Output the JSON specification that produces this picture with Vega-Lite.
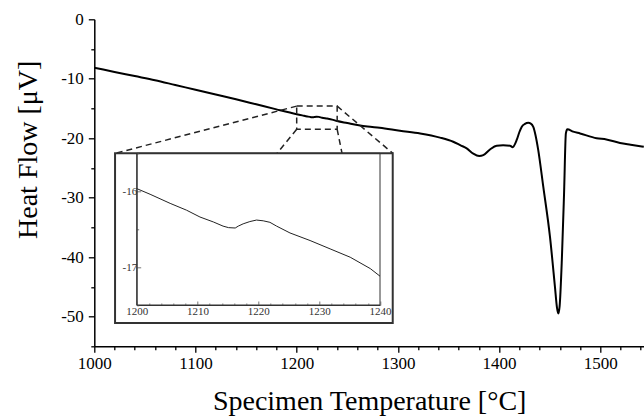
{
  "$schema": "https://vega.github.io/schema/vega-lite/v6.json",
  "width": 549.7,
  "height": 327,
  "autosize": "none",
  "padding": {"left": 94.3, "top": 19.3, "right": 0, "bottom": 71.7},
  "background": "white",
  "config": {
    "view": {"stroke": null},
    "font": "Liberation Serif",
    "axis": {"labelFont": "Liberation Serif", "titleFont": "Liberation Serif", "titleFontWeight": "normal", "grid": false, "labelColor": "black", "titleColor": "black", "domainColor": "black", "tickColor": "black"}
  },
  "datasets": {
    "main": [
      {"T": 1000, "HF": -8.15}, {"T": 1020, "HF": -8.85}, {"T": 1040, "HF": -9.55}, {"T": 1060, "HF": -10.25},
      {"T": 1080, "HF": -11.05}, {"T": 1100, "HF": -11.85}, {"T": 1120, "HF": -12.65}, {"T": 1140, "HF": -13.45},
      {"T": 1160, "HF": -14.3}, {"T": 1180, "HF": -15.15}, {"T": 1200, "HF": -15.96}, {"T": 1205.5, "HF": -16.16},
      {"T": 1210.4, "HF": -16.34}, {"T": 1214.2, "HF": -16.46}, {"T": 1216.2, "HF": -16.49}, {"T": 1217.5, "HF": -16.43},
      {"T": 1219.7, "HF": -16.38}, {"T": 1221.9, "HF": -16.41}, {"T": 1225, "HF": -16.55}, {"T": 1230, "HF": -16.7},
      {"T": 1235, "HF": -16.87}, {"T": 1240, "HF": -17.12}, {"T": 1250, "HF": -17.45}, {"T": 1260, "HF": -17.78},
      {"T": 1270, "HF": -18.05}, {"T": 1282, "HF": -18.25}, {"T": 1302, "HF": -18.75}, {"T": 1322, "HF": -19.2},
      {"T": 1341.6, "HF": -19.9}, {"T": 1354.7, "HF": -20.6}, {"T": 1362, "HF": -21.2}, {"T": 1368, "HF": -21.7},
      {"T": 1374.5, "HF": -22.6}, {"T": 1380.4, "HF": -23.0}, {"T": 1384.4, "HF": -22.85}, {"T": 1391, "HF": -21.9},
      {"T": 1397.6, "HF": -21.25}, {"T": 1404, "HF": -21.2}, {"T": 1410.8, "HF": -21.25}, {"T": 1413.4, "HF": -21.5},
      {"T": 1417.4, "HF": -20.3}, {"T": 1420, "HF": -19.0}, {"T": 1422.3, "HF": -18.1}, {"T": 1425.5, "HF": -17.6},
      {"T": 1428.9, "HF": -17.4}, {"T": 1431, "HF": -17.5}, {"T": 1433.8, "HF": -18.1}, {"T": 1436, "HF": -19.5},
      {"T": 1438.7, "HF": -22.0}, {"T": 1443.7, "HF": -28.2}, {"T": 1450.3, "HF": -36.6}, {"T": 1455.2, "HF": -45.0},
      {"T": 1457.2, "HF": -48.5}, {"T": 1458.5, "HF": -49.5}, {"T": 1459.8, "HF": -48.3}, {"T": 1462, "HF": -40.5},
      {"T": 1464.2, "HF": -29.3}, {"T": 1466, "HF": -19.2}, {"T": 1467.4, "HF": -18.5}, {"T": 1473.3, "HF": -18.9},
      {"T": 1480, "HF": -19.2}, {"T": 1496.4, "HF": -20.0}, {"T": 1506, "HF": -20.2}, {"T": 1519.5, "HF": -20.8},
      {"T": 1530, "HF": -21.1}, {"T": 1543, "HF": -21.45}
    ],
    "inset": [
      {"T": 1200, "HF": -15.965}, {"T": 1202.2, "HF": -16.04}, {"T": 1205.5, "HF": -16.16}, {"T": 1208.2, "HF": -16.25},
      {"T": 1210.4, "HF": -16.34}, {"T": 1212.6, "HF": -16.405}, {"T": 1214.2, "HF": -16.46}, {"T": 1215.1, "HF": -16.48},
      {"T": 1216.2, "HF": -16.485}, {"T": 1216.7, "HF": -16.46}, {"T": 1217.5, "HF": -16.43}, {"T": 1218.6, "HF": -16.4},
      {"T": 1219.7, "HF": -16.38}, {"T": 1220.8, "HF": -16.39}, {"T": 1221.9, "HF": -16.41}, {"T": 1223.0, "HF": -16.46},
      {"T": 1225.2, "HF": -16.55}, {"T": 1228.5, "HF": -16.65}, {"T": 1231.8, "HF": -16.76}, {"T": 1235.1, "HF": -16.87},
      {"T": 1238.4, "HF": -17.02}, {"T": 1240, "HF": -17.12}
    ],
    "zoombox": [{"xa": 1200, "xb": 1240, "ya": -14.6, "yb": -18.5}],
    "connectors": [
      {"xa": 1200, "ya": -14.6, "xb": 1020.5, "yb": -22.55},
      {"xa": 1200, "ya": -18.5, "xb": 1180.5, "yb": -22.55},
      {"xa": 1240, "ya": -18.5, "xb": 1244.8, "yb": -22.55},
      {"xa": 1240, "ya": -14.6, "xb": 1295, "yb": -22.55}
    ],
    "frame": [{"xa": 1020.5, "xb": 1294.9, "ya": -22.55, "yb": -51.07}],
    "insetbox": [{"xa": 1200, "xb": 1240, "ya": -17.5, "yb": -15.5}]
  },
  "layer": [
    {
      "data": {"name": "main"},
      "mark": {"type": "line", "color": "black", "strokeWidth": 2, "interpolate": "monotone"},
      "encoding": {
        "x": {"field": "T", "type": "quantitative",
          "scale": {"domain": [1000, 1543.2], "nice": false, "zero": false},
          "axis": {"orient": "bottom", "title": "Specimen Temperature [°C]", "values": [1000,1020,1040,1060,1080,1100,1120,1140,1160,1180,1200,1220,1240,1260,1280,1300,1320,1340,1360,1380,1400,1420,1440,1460,1480,1500,1520,1540],
            "labelExpr": "datum.value % 100 === 0 ? '' + datum.value : ''",
            "tickSize": {"condition": {"test": "datum.value % 100 === 0", "value": 6}, "value": 3.5},
            "labelFontSize": 17, "labelPadding": 3, "labelOverlap": false, "labelFlush": false,
            "domainWidth": 1.5, "tickWidth": 1.3,
            "titleFontSize": 28, "titleY": 63, "titleBaseline": "alphabetic"}},
        "y": {"field": "HF", "type": "quantitative",
          "scale": {"domain": [-55, 0], "nice": false, "zero": false},
          "axis": {"orient": "left", "title": "Heat Flow [μV]", "values": [0,-5,-10,-15,-20,-25,-30,-35,-40,-45,-50,-55],
            "labelExpr": "datum.value % 10 === 0 ? '' + datum.value : ''",
            "tickSize": {"condition": {"test": "datum.value % 10 === 0", "value": 6}, "value": 3.5},
            "labelFontSize": 17, "labelPadding": 5, "labelOverlap": false, "labelFlush": false,
            "domainWidth": 1.5, "tickWidth": 1.3,
            "titleFontSize": 28, "titleX": -66, "titleY": 130, "titleBaseline": "middle", "titleAlign": "center"}}
      }
    },
    {
      "mark": {"type": "rule", "color": "#444", "strokeWidth": 1.5},
      "encoding": {"y": {"datum": 0, "type": "quantitative", "scale": {"domain": [-55, 0], "nice": false, "zero": false}, "axis": null}}
    },
    {
      "data": {"name": "zoombox"},
      "mark": {"type": "rect", "filled": false, "color": "#222", "strokeWidth": 1.5, "strokeDash": [6, 4]},
      "encoding": {
        "x": {"field": "xa", "type": "quantitative", "scale": {"domain": [1000, 1543.2], "nice": false, "zero": false}, "axis": null}, "x2": {"field": "xb"},
        "y": {"field": "ya", "type": "quantitative", "scale": {"domain": [-55, 0], "nice": false, "zero": false}, "axis": null}, "y2": {"field": "yb"}
      }
    },
    {
      "data": {"name": "connectors"},
      "mark": {"type": "rule", "color": "#222", "strokeWidth": 1.5, "strokeDash": [6, 4]},
      "encoding": {
        "x": {"field": "xa", "type": "quantitative", "scale": {"domain": [1000, 1543.2], "nice": false, "zero": false}, "axis": null}, "x2": {"field": "xb"},
        "y": {"field": "ya", "type": "quantitative", "scale": {"domain": [-55, 0], "nice": false, "zero": false}, "axis": null}, "y2": {"field": "yb"}
      }
    },
    {
      "data": {"name": "frame"},
      "mark": {"type": "rect", "fill": "white", "stroke": "#333", "strokeWidth": 2},
      "encoding": {
        "x": {"field": "xa", "type": "quantitative", "scale": {"domain": [1000, 1543.2], "nice": false, "zero": false}, "axis": null}, "x2": {"field": "xb"},
        "y": {"field": "ya", "type": "quantitative", "scale": {"domain": [-55, 0], "nice": false, "zero": false}, "axis": null}, "y2": {"field": "yb"}
      }
    },
    {
      "data": {"name": "insetbox"},
      "mark": {"type": "rect", "filled": false, "color": "#333", "strokeWidth": 1},
      "encoding": {
        "x": {"field": "xa", "type": "quantitative", "scale": {"domain": [1200, 1240], "range": [42.4, 285.7], "nice": false, "zero": false}, "axis": null},
        "x2": {"field": "xb"},
        "y": {"field": "ya", "type": "quantitative", "scale": {"domain": [-17.5, -15.5], "range": [285.7, 134], "nice": false, "zero": false}, "axis": null},
        "y2": {"field": "yb"}
      }
    },
    {
      "data": {"name": "inset"},
      "mark": {"type": "line", "color": "#222", "strokeWidth": 1},
      "encoding": {
        "x": {"field": "T", "type": "quantitative",
          "scale": {"domain": [1200, 1240], "range": [42.4, 285.7], "nice": false, "zero": false},
          "axis": {"orient": "bottom", "offset": -41.3, "title": null, "zindex": 2,
            "values": [1200,1202,1204,1206,1208,1210,1212,1214,1216,1218,1220,1222,1224,1226,1228,1230,1232,1234,1236,1238,1240],
            "labelExpr": "datum.value % 10 === 0 ? '' + datum.value : ''",
            "tickSize": {"condition": {"test": "datum.value % 10 === 0", "value": -4}, "value": -2},
            "labelFontSize": 11, "labelColor": "#333", "labelPadding": 4, "labelOverlap": false, "labelFlush": false,
            "domainColor": "#333", "tickColor": "#555", "tickWidth": 0.8}},
        "y": {"field": "HF", "type": "quantitative",
          "scale": {"domain": [-17.5, -15.5], "range": [285.7, 134], "nice": false, "zero": false},
          "axis": {"orient": "left", "offset": -42.4, "title": null, "zindex": 2,
            "values": [-15.5, -16, -16.5, -17, -17.5],
            "labelExpr": "abs(datum.value % 1) < 0.01 ? '' + datum.value : ''",
            "tickSize": {"condition": {"test": "abs(datum.value % 1) < 0.01", "value": -4}, "value": -2},
            "labelFontSize": 11, "labelColor": "#333", "labelPadding": 4, "labelOverlap": false, "labelFlush": false,
            "domainColor": "#333", "tickColor": "#555", "tickWidth": 0.8}}
      }
    }
  ],
  "resolve": {"scale": {"x": "independent", "y": "independent"}}
}
